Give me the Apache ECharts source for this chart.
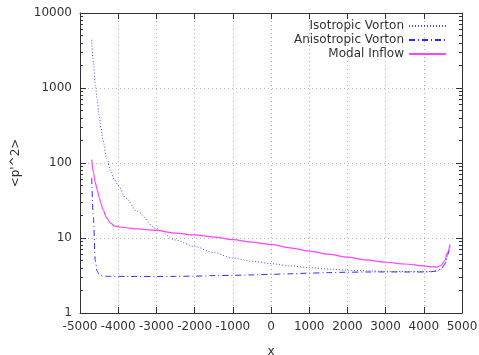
<!DOCTYPE html>
<html>
<head>
<meta charset="utf-8">
<script src="https://cdn.jsdelivr.net/npm/echarts@6/dist/echarts.min.js"></script>
<style>
  html, body { margin: 0; padding: 0; background: #fff; }
  #chart { width: 479px; height: 355px; }
</style>
</head>
<body>
<div id="chart"></div>
<script>
const xs = [-4694, -4650, -4600, -4550, -4500, -4450, -4400, -4300, -4200, -4100,
  -4000, -3800, -3500, -3000, -2500, -2000, -1500, -1000, -500, 0,
  500, 1000, 1500, 2000, 2500, 3000, 3500, 4000, 4200, 4350,
  4450, 4550, 4620, 4686];

const isotropic = [4400, 2200, 1100, 700, 440, 290, 200, 115, 80, 60,
  50, 34, 22.5, 13.3, 9.4, 7.7, 6.4, 5.4, 4.9, 4.55,
  4.25, 4.03, 3.85, 3.72, 3.65, 3.6, 3.57, 3.56, 3.58, 3.62,
  3.8, 4.3, 5.8, 7.9];

const anisotropic = [63, 19, 5, 3.6, 3.25, 3.15, 3.1, 3.09, 3.08, 3.08,
  3.08, 3.07, 3.07, 3.07, 3.08, 3.1, 3.15, 3.18, 3.22, 3.28,
  3.33, 3.4, 3.45, 3.5, 3.52, 3.53, 3.52, 3.52, 3.55, 3.65,
  3.9, 4.5, 6.0, 7.9];

const modal = [111, 75, 55, 44, 35, 29, 24, 18.5, 15.8, 14.5,
  14.1, 13.7, 13.2, 12.6, 11.6, 11.0, 10.3, 9.5, 8.8, 8.2,
  7.4, 6.7, 6.1, 5.55, 5.1, 4.75, 4.5, 4.25, 4.12, 4.1,
  4.3, 5.0, 6.4, 8.2];

const seriesNames = ['Isotropic Vorton', 'Anisotropic Vorton', 'Modal Inflow'];
const yName = "<p'^2>";
const xName = 'x';

// minor ticks 2..9 inside each decade
const minorTicks = [];
[1, 10, 100, 1000].forEach(d => {
  for (let k = 2; k <= 9; k++) minorTicks.push(k * d);
});

const font = 'DejaVu Sans';
const textColor = '#333';
const frameColor = '#333';
const gridLine = { show: true, lineStyle: { color: '#b4b4b4', type: [1, 3], width: 1 } };
const plain = v => String(Math.round(v));

const chart = echarts.init(document.getElementById('chart'));

const pair = (ys) => xs.map((x, i) => [x, ys[i]]);

const logAxis = (extra) => Object.assign({
  type: 'log',
  logBase: 10,
  min: 1,
  max: 10000,
  axisLine: { show: true, onZero: false, lineStyle: { color: frameColor, width: 1 } },
  axisTick: { show: true, inside: true, length: 6, lineStyle: { color: frameColor } },
  axisLabel: { show: false },
  splitLine: { show: false },
  minorTick: { show: false }
}, extra);

const option = {
  backgroundColor: '#fff',
  animation: false,
  textStyle: { fontFamily: font },
  grid: { left: 80, right: 17, top: 13, bottom: 42, containLabel: false, outerBoundsMode: 'none' },
  legend: seriesNames.map((name, i) => ({
    data: [name],
    right: 32,
    top: 20 + i * 14,
    orient: 'vertical',
    align: 'right',
    itemWidth: 37,
    itemHeight: 10,
    padding: 0,
    itemStyle: { opacity: 0 },
    textStyle: { fontFamily: font, fontSize: 12, color: textColor }
  })),
  xAxis: [
    {
      type: 'value',
      min: -5000,
      max: 5000,
      interval: 1000,
      position: 'bottom',
      name: xName,
      nameLocation: 'middle',
      nameGap: 33,
      nameTextStyle: { fontFamily: font, fontSize: 12, color: textColor },
      axisLine: { show: true, onZero: false, lineStyle: { color: frameColor, width: 1 } },
      axisTick: { show: true, inside: true, length: 6, lineStyle: { color: frameColor } },
      axisLabel: {
        fontFamily: font, fontSize: 12, color: textColor, margin: 8,
        showMinLabel: true, showMaxLabel: true, hideOverlap: false, formatter: plain
      },
      splitLine: gridLine
    },
    {
      type: 'value',
      min: -5000,
      max: 5000,
      interval: 1000,
      position: 'top',
      axisLine: { show: true, onZero: false, lineStyle: { color: frameColor, width: 1 } },
      axisTick: { show: true, inside: true, length: 6, lineStyle: { color: frameColor } },
      axisLabel: { show: false },
      splitLine: { show: false }
    }
  ],
  yAxis: [
    logAxis({
      position: 'left',
      name: yName,
      nameLocation: 'middle',
      nameGap: 58,
      nameTextStyle: { fontFamily: font, fontSize: 12, color: textColor },
      axisLabel: { show: true, fontFamily: font, fontSize: 12, color: textColor, margin: 8, formatter: plain },
      splitLine: gridLine
    }),
    logAxis({
      position: 'left',
      axisLine: { show: false, onZero: false },
      axisTick: { show: true, inside: true, length: 3, customValues: minorTicks, lineStyle: { color: frameColor } }
    }),
    logAxis({ position: 'right' }),
    logAxis({
      position: 'right',
      axisLine: { show: false, onZero: false },
      axisTick: { show: true, inside: true, length: 3, customValues: minorTicks, lineStyle: { color: frameColor } }
    })
  ],
  series: [
    {
      name: seriesNames[0],
      type: 'line',
      data: pair(isotropic),
      symbol: 'none',
      smooth: 0.3,
      smoothMonotone: 'x',
      lineStyle: { color: '#4a4aff', width: 1, type: [1, 2] },
      itemStyle: { color: '#4a4aff' }
    },
    {
      name: seriesNames[1],
      type: 'line',
      data: pair(anisotropic),
      symbol: 'none',
      smooth: 0.3,
      smoothMonotone: 'x',
      lineStyle: { color: '#2a2aff', width: 1, type: [6, 3, 1, 3] },
      itemStyle: { color: '#2a2aff' }
    },
    {
      name: seriesNames[2],
      type: 'line',
      data: pair(modal),
      symbol: 'none',
      smooth: 0.3,
      smoothMonotone: 'x',
      lineStyle: { color: '#ff44ff', width: 1.2 },
      itemStyle: { color: '#ff44ff' }
    }
  ]
};

chart.setOption(option);
</script>
</body>
</html>
